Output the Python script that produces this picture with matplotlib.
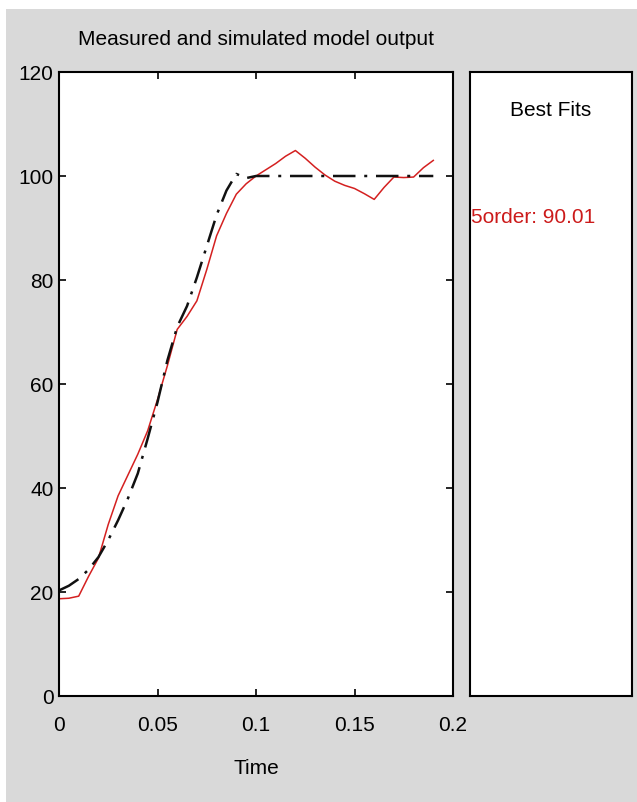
import numpy as np
import matplotlib.pyplot as plt
from matplotlib import font_manager
from matplotlib.patches import Rectangle

# sample times (s)
time = [0.000, 0.005, 0.010, 0.015, 0.020, 0.025, 0.030, 0.035, 0.040, 0.045,
        0.050, 0.055, 0.060, 0.065, 0.070, 0.075, 0.080, 0.085, 0.090, 0.095,
        0.100, 0.105, 0.110, 0.115, 0.120, 0.125, 0.130, 0.135, 0.140, 0.145,
        0.150, 0.155, 0.160, 0.165, 0.170, 0.175, 0.180, 0.185, 0.190]

# measured output
measured = [18.7, 18.8, 19.2, 23.0, 26.5, 33.0, 38.5, 42.5, 46.5, 51.0,
            57.0, 63.5, 70.5, 73.0, 76.0, 82.0, 88.5, 92.8, 96.5, 98.5,
            100.0, 101.2, 102.4, 103.8, 104.9, 103.4, 101.7, 100.2, 99.0, 98.2,
            97.6, 96.6, 95.5, 97.8, 99.8, 99.7, 99.8, 101.6, 103.0]

# simulated output of the 5th order model
simulated = [20.3, 21.2, 22.5, 24.3, 26.7, 30.0, 33.8, 38.0, 42.8, 49.5,
             56.5, 64.5, 71.0, 75.0, 80.5, 86.5, 92.5, 97.2, 100.4, 99.6,
             100.0, 100.0, 100.0, 100.0, 100.0, 100.0, 100.0, 100.0, 100.0, 100.0,
             100.0, 100.0, 100.0, 100.0, 100.0, 100.0, 100.0, 100.0, 100.0]

x_ticks = [0, 0.05, 0.1, 0.15, 0.2]
x_tick_labels = ['0', '0.05', '0.1', '0.15', '0.2']
y_ticks = [0, 20, 40, 60, 80, 100, 120]

model_name = '5order'
fit_percent = 90.01

# pick a narrow face if one is there, else plain Liberation Sans
installed = {f.name for f in font_manager.fontManager.ttflist}
if 'Liberation Sans Narrow' in installed:
    family, fs = 'Liberation Sans Narrow', 17
elif 'DejaVu Sans Condensed' in installed:
    family, fs = 'DejaVu Sans Condensed', 14
else:
    family, fs = 'Liberation Sans', 15
plt.rcParams['font.family'] = [family, 'DejaVu Sans']

W, H = 637, 803
fig = plt.figure(figsize=(W / 100, H / 100), dpi=100)
fig.patch.set_facecolor('white')
# grey window background with a thin white border top/left
fig.patches.append(Rectangle((6 / W, 0), 1 - 6 / W, 1 - 10 / H,
                             transform=fig.transFigure, facecolor='#d9d9d9',
                             edgecolor='none', zorder=-10))

ax = fig.add_axes([59 / W, (H - 697) / H, (453 - 59) / W, (697 - 73) / H])
ax.plot(time, measured, color='#d42020', linewidth=1.1)
ax.plot(time, simulated, color='#111111', linewidth=1.8,
        linestyle=(0, (9, 3.5, 1.2, 3.5)))

ax.set_xlim(0, 0.2)
ax.set_ylim(0, 120)
ax.set_xticks(x_ticks)
ax.set_xticklabels(x_tick_labels)
ax.set_yticks(y_ticks)
ax.tick_params(direction='in', length=5, width=1.2, top=True, right=True,
               labelsize=fs, colors='black')
ax.tick_params(axis='x', pad=14)
ax.tick_params(axis='y', pad=4)
for s in ax.spines.values():
    s.set_linewidth(1.5)
ax.set_title('Measured and simulated model output', fontsize=fs, pad=20)
ax.set_xlabel('Time', fontsize=fs, labelpad=17)

# side panel listing the fit
side = fig.add_axes([470 / W, (H - 697) / H, (632 - 470) / W, (697 - 73) / H])
side.set_xticks([])
side.set_yticks([])
for s in side.spines.values():
    s.set_linewidth(1.5)
side.text(0.5, 0.94, 'Best Fits', ha='center', va='center', fontsize=fs,
          transform=side.transAxes)
side.text(0.005, 0.768, f'{model_name}: {fit_percent:.2f}', ha='left', va='center',
          fontsize=fs, color='#cc1a1a', transform=side.transAxes)

fig.savefig('out.png', dpi=100)
